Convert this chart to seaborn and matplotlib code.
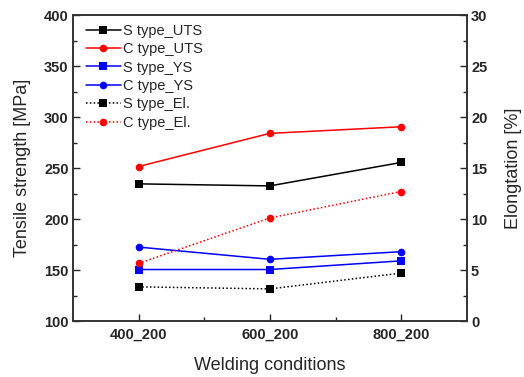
import matplotlib
matplotlib.use('Agg')
import matplotlib.pyplot as plt
import seaborn as sns
import pandas as pd
from matplotlib.ticker import MultipleLocator, FixedLocator

# Data
conditions = ['400_200', '600_200', '800_200']
s_uts = [234.5, 232.5, 255.5]
c_uts = [251.5, 284, 290.5]
s_ys = [150.5, 150.5, 159]
c_ys = [172.5, 160.5, 168]
s_el = [3.35, 3.15, 4.7]
c_el = [5.65, 10.1, 12.7]

sns.set_style('ticks')
plt.rcParams['font.family'] = ['Liberation Sans', 'DejaVu Sans']
plt.rcParams['xtick.direction'] = 'in'
plt.rcParams['ytick.direction'] = 'in'

fig = plt.figure(figsize=(5.24, 3.77), dpi=100)
ax = fig.add_axes([0.139, 0.1485, 0.752, 0.8115])
ax2 = ax.twinx()

lw = 1.1
ms = 5.5
sns.lineplot(x=conditions, y=s_uts, ax=ax, color='black', marker='s', markersize=ms,
             markeredgewidth=0, linewidth=lw, label='S type_UTS', sort=False)
sns.lineplot(x=conditions, y=c_uts, ax=ax, color='red', marker='o', markersize=ms,
             markeredgewidth=0, linewidth=lw, label='C type_UTS', sort=False)
sns.lineplot(x=conditions, y=s_ys, ax=ax, color='blue', marker='s', markersize=ms,
             markeredgewidth=0, linewidth=lw, label='S type_YS', sort=False)
sns.lineplot(x=conditions, y=c_ys, ax=ax, color='blue', marker='o', markersize=ms,
             markeredgewidth=0, linewidth=lw, label='C type_YS', sort=False)
sns.lineplot(x=conditions, y=s_el, ax=ax2, color='black', marker='s', markersize=ms,
             markeredgewidth=0, linewidth=lw, linestyle=(0, (1, 1.5)),
             label='S type_El.', sort=False)
sns.lineplot(x=conditions, y=c_el, ax=ax2, color='red', marker='o', markersize=ms,
             markeredgewidth=0, linewidth=lw, linestyle=(0, (1, 1.5)),
             label='C type_El.', sort=False)

ax.set_xlim(-0.5, 2.5)
ax.set_ylim(100, 400)
ax2.set_ylim(0, 30)
ax.yaxis.set_major_locator(MultipleLocator(50))
ax.yaxis.set_minor_locator(MultipleLocator(25))
ax2.yaxis.set_major_locator(MultipleLocator(5))
ax2.yaxis.set_minor_locator(MultipleLocator(2.5))
ax.xaxis.set_minor_locator(FixedLocator([0.5, 1.5]))

for a in (ax, ax2):
    for s in a.spines.values():
        s.set_visible(True)
        s.set_linewidth(1.2)
        s.set_color('#333333')
    a.tick_params(which='major', length=5, width=1, labelsize=10.5, pad=3)
    a.tick_params(which='minor', length=3, width=1)
    for lab in a.get_xticklabels() + a.get_yticklabels():
        lab.set_fontweight('bold')
ax.tick_params(axis='x', pad=5)

ax.set_xlabel('Welding conditions', fontsize=13, labelpad=11)
ax.set_ylabel('Tensile strength [MPa]', fontsize=13, labelpad=9)
ax2.set_ylabel('Elongtation [%]', fontsize=13, labelpad=13)

h1, l1 = ax.get_legend_handles_labels()
h2, l2 = ax2.get_legend_handles_labels()
ax2.get_legend().remove()
ax.get_legend().remove()
ax.legend(h1 + h2, l1 + l2, loc='upper left', frameon=False, fontsize=10.5,
          handlelength=2.4, handletextpad=0.15, labelspacing=0.3,
          borderaxespad=0.2, bbox_to_anchor=(0.01, 1.0))

fig.savefig('out.png', dpi=100)
